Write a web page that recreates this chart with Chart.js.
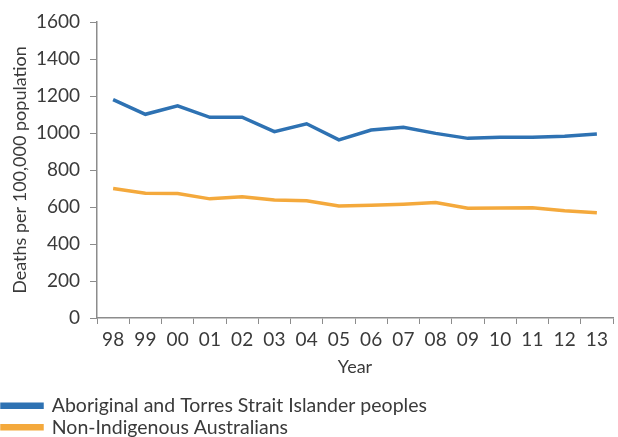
<!DOCTYPE html>
<html>
<head>
<meta charset="utf-8">
<script src="https://cdn.jsdelivr.net/npm/chart.js@4/dist/chart.umd.min.js"></script>
<style>
  html, body { margin: 0; padding: 0; background: #fff; }
  #wrap { width: 618px; height: 437px; }
</style>
</head>
<body>
<div id="wrap"><canvas id="chart"></canvas></div>
<script>
// Data
const years = ["98","99","00","01","02","03","04","05","06","07","08","09","10","11","12","13"];
const indigenous = [1180, 1101, 1147, 1085, 1085, 1007, 1050, 963, 1016, 1031, 998, 971, 977, 977, 982, 995];
const nonIndigenous = [700, 674, 673, 644, 656, 638, 634, 606, 609, 615, 624, 593, 595, 596, 580, 569];
const yTicks = [0, 200, 400, 600, 800, 1000, 1200, 1400, 1600];

const axisColor = "#8c8c8c";
const textColor = "#3a3a3a";
Chart.defaults.font.family = "Lato, 'Open Sans', sans-serif";
Chart.defaults.color = textColor;

const ctx = document.getElementById("chart").getContext("2d");
new Chart(ctx, {
  type: "line",
  data: {
    labels: years,
    datasets: [
      {
        label: "Aboriginal and Torres Strait Islander peoples",
        data: indigenous,
        borderColor: "#2e72b3",
        backgroundColor: "#2e72b3",
        borderWidth: 3.5,
        pointRadius: 0,
        tension: 0
      },
      {
        label: "Non-Indigenous Australians",
        data: nonIndigenous,
        borderColor: "#f4a93c",
        backgroundColor: "#f4a93c",
        borderWidth: 3.5,
        pointRadius: 0,
        tension: 0
      }
    ]
  },
  options: {
    responsive: true,
    maintainAspectRatio: false,
    animation: false,
    layout: { padding: { top: 22, right: 5, left: 0, bottom: -10 } },
    plugins: {
      tooltip: { enabled: false },
      legend: {
        position: "bottom",
        align: "start",
        labels: {
          boxWidth: 40,
          boxHeight: 3,
          padding: 2,
          color: textColor,
          font: { size: 19.5 }
        }
      }
    },
    scales: {
      x: {
        offset: true,
        grid: { offset: true, drawOnChartArea: false, color: axisColor, tickLength: 6 },
        border: { color: axisColor, width: 1.5 },
        ticks: { color: textColor, font: { size: 19 }, maxRotation: 0, padding: 4 },
        title: { display: true, text: "Year", color: textColor, font: { size: 18 }, padding: { top: 0, bottom: 16 } },
        afterFit: s => { s.height = 76; }
      },
      y: {
        min: 0,
        max: 1600,
        afterBuildTicks: s => { s.ticks = yTicks.map(v => ({ value: v })); },
        grid: { drawOnChartArea: false, color: axisColor, tickLength: 7 },
        border: { color: axisColor, width: 1.5 },
        ticks: { color: textColor, font: { size: 19 }, padding: 10, callback: v => String(v) },
        title: { display: true, text: "Deaths per 100,000 population", color: textColor, font: { size: 18 }, padding: { top: 9, bottom: 0 } },
        afterFit: s => { s.width = 97; }
      }
    }
  }
});
</script>
</body>
</html>
